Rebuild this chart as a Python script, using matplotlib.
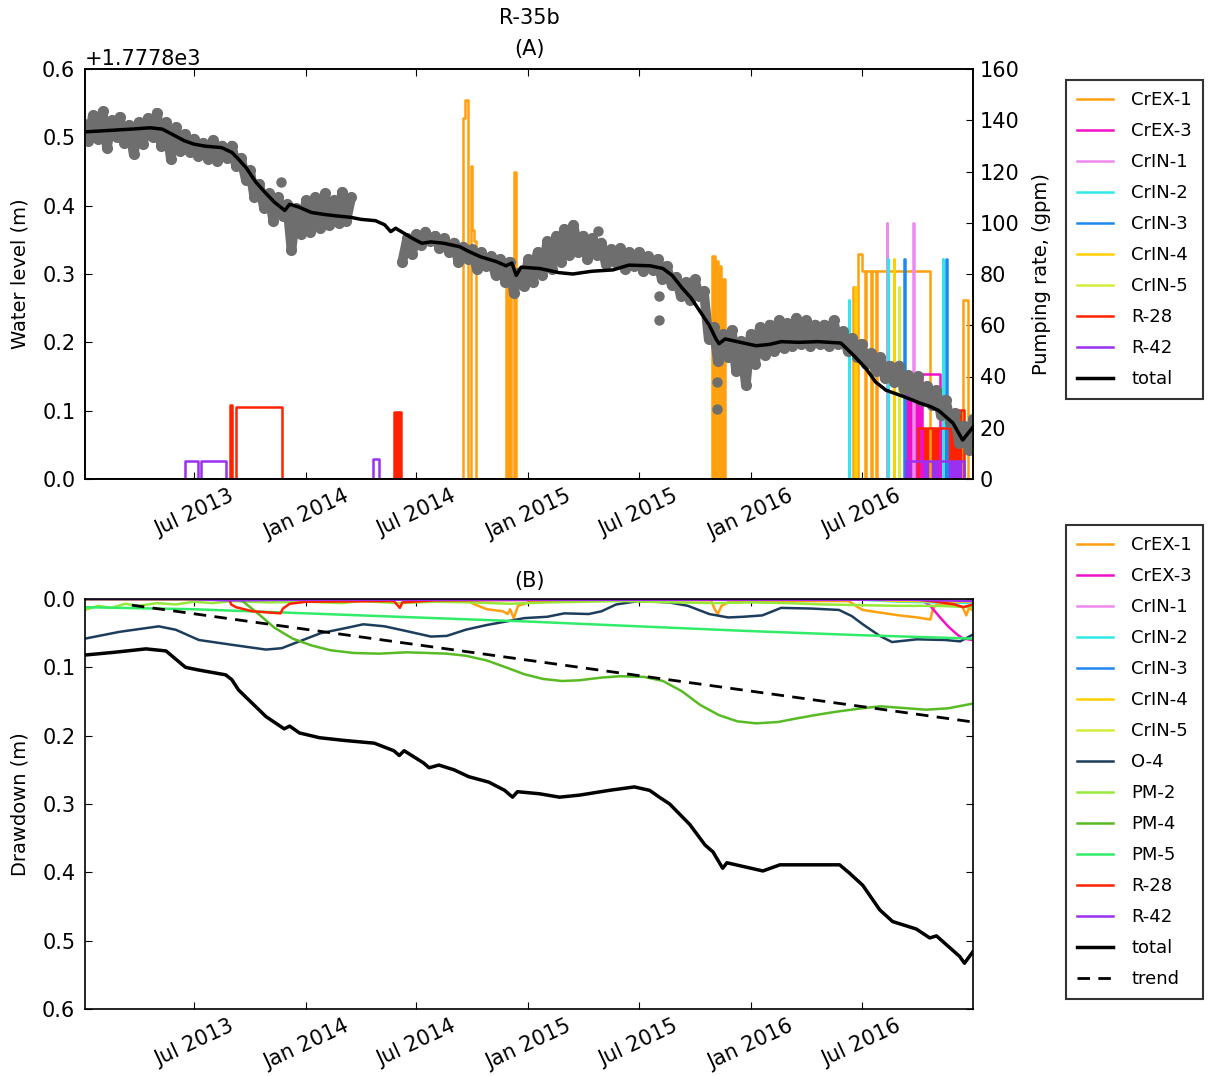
import numpy as np
import matplotlib
matplotlib.use('Agg')
import matplotlib.pyplot as plt
import matplotlib.dates as mdates
from matplotlib.ticker import MultipleLocator, ScalarFormatter, FormatStrFormatter

plt.rcParams['font.family'] = 'DejaVu Sans'
plt.rcParams['font.size'] = 15
plt.rcParams['axes.labelsize'] = 14

# ---------------- panel A: water level ----------------
wl_base = 1777.8   # offset shown on the axis

# gray observations, 4 readings per month (days below), None = no data
gray_months = ['2013-01', '2013-02', '2013-03', '2013-04', '2013-05', '2013-06',
               '2013-07', '2013-08', '2013-09', '2013-10', '2013-11', '2013-12',
               '2014-01', '2014-02', '2014-03', '2014-04', '2014-05', '2014-06',
               '2014-07', '2014-08', '2014-09', '2014-10', '2014-11', '2014-12',
               '2015-01', '2015-02', '2015-03', '2015-04', '2015-05', '2015-06',
               '2015-07', '2015-08', '2015-09', '2015-10', '2015-11', '2015-12',
               '2016-01', '2016-02', '2016-03', '2016-04', '2016-05', '2016-06',
               '2016-07', '2016-08', '2016-09', '2016-10', '2016-11', '2016-12']
gray_days = [1, 8, 16, 24]
gray_vals = [
    [0.520, 0.495, 0.532, 0.498], [0.538, 0.485, 0.525, 0.500], [0.530, 0.492, 0.518, 0.475],
    [0.522, 0.490, 0.528, 0.500], [0.536, 0.488, 0.522, 0.468], [0.515, 0.480, 0.505, 0.478],
    [0.498, 0.472, 0.492, 0.468], [0.496, 0.466, 0.488, 0.470], [0.488, 0.458, 0.470, 0.438],
    [0.452, 0.412, 0.432, 0.396], [0.418, 0.378, 0.412, 0.385], [0.402, 0.335, 0.396, 0.358],
    [0.408, 0.362, 0.412, 0.368], [0.418, 0.372, 0.408, 0.375], [0.420, 0.378, 0.412, None],
    [None, None, None, None], [None, None, None, None], [None, 0.318, 0.352, 0.330],
    [0.358, 0.342, 0.362, 0.348], [0.356, 0.338, 0.352, 0.332], [0.346, 0.318, 0.340, 0.322],
    [0.336, 0.308, 0.332, 0.312], [0.326, 0.298, 0.322, 0.288], [0.318, 0.272, 0.302, 0.282],
    [0.322, 0.288, 0.332, 0.298], [0.348, 0.308, 0.356, 0.318], [0.366, 0.328, 0.372, 0.332],
    [0.356, 0.322, 0.352, 0.328], [0.346, 0.314, 0.336, 0.318], [0.338, 0.308, 0.332, 0.312],
    [0.332, 0.304, 0.326, 0.306], [0.322, 0.292, 0.312, 0.284], [0.296, 0.268, 0.288, 0.262],
    [0.292, 0.268, 0.275, 0.205], [0.222, 0.172, 0.212, 0.178], [0.218, 0.158, 0.202, 0.138],
    [0.212, 0.168, 0.222, 0.182], [0.226, 0.188, 0.232, 0.192], [0.228, 0.194, 0.236, 0.198],
    [0.232, 0.194, 0.226, 0.198], [0.226, 0.194, 0.232, 0.198], [0.216, 0.188, 0.206, 0.178],
    [0.198, 0.168, 0.184, 0.158], [0.178, 0.148, 0.166, 0.142], [0.166, 0.132, 0.152, 0.124],
    [0.150, 0.114, 0.136, 0.108], [0.130, 0.094, 0.116, 0.084], [0.096, 0.052, 0.078, 0.042]]
gray_end = ('2016-12-31', 0.088)
gray_out_t = ['2013-11-20', '2015-04-25', '2015-08-04', '2015-08-04', '2015-11-06', '2015-11-06']
gray_out_v = [0.435, 0.363, 0.268, 0.233, 0.142, 0.102]

wl_t = ['2013-01-03', '2013-02-10', '2013-03-20', '2013-04-20', '2013-05-10', '2013-05-25',
        '2013-06-15', '2013-07-01', '2013-07-20', '2013-08-15', '2013-09-01', '2013-09-10',
        '2013-09-25', '2013-10-10', '2013-10-25', '2013-11-10', '2013-11-20', '2013-11-27',
        '2013-12-05', '2013-12-20', '2014-01-10', '2014-02-01', '2014-02-20', '2014-03-15',
        '2014-04-01', '2014-04-25', '2014-05-10', '2014-05-20', '2014-05-28', '2014-06-10',
        '2014-06-25', '2014-07-10', '2014-07-25', '2014-08-15', '2014-09-10', '2014-09-25',
        '2014-10-15', '2014-11-10', '2014-11-25', '2014-12-05', '2014-12-12', '2014-12-20',
        '2015-01-20', '2015-02-20', '2015-03-15', '2015-04-15', '2015-05-20', '2015-06-15',
        '2015-07-20', '2015-08-10', '2015-08-25', '2015-09-10', '2015-09-25', '2015-10-10',
        '2015-10-25', '2015-11-05', '2015-11-10', '2015-11-20', '2015-12-15', '2016-01-10',
        '2016-02-01', '2016-02-20', '2016-03-20', '2016-04-20', '2016-05-28', '2016-06-18',
        '2016-07-08', '2016-07-24', '2016-08-10', '2016-09-10', '2016-10-05', '2016-10-22',
        '2016-11-05', '2016-11-28', '2016-12-14', '2016-12-31']
wl_total = [0.508, 0.510, 0.512, 0.514, 0.512, 0.505,
            0.495, 0.490, 0.487, 0.485, 0.478, 0.470,
            0.455, 0.435, 0.420, 0.405, 0.398, 0.393,
            0.402, 0.398, 0.390, 0.387, 0.385, 0.383,
            0.380, 0.378, 0.372, 0.362, 0.367, 0.360,
            0.352, 0.345, 0.347, 0.345, 0.340, 0.333,
            0.325, 0.318, 0.312, 0.316, 0.298, 0.310,
            0.308, 0.302, 0.300, 0.304, 0.306, 0.313,
            0.312, 0.308, 0.298, 0.280, 0.265, 0.245,
            0.225, 0.205, 0.198, 0.205, 0.200, 0.195,
            0.197, 0.201, 0.200, 0.201, 0.199, 0.181,
            0.162, 0.142, 0.130, 0.120, 0.111, 0.106,
            0.100, 0.082, 0.057, 0.076]

# pumping rates (gpm): change points, rate holds until the next date
crex1_t = ['2013-01-03', '2014-09-15', '2014-09-19', '2014-09-24', '2014-09-28', '2014-09-30',
           '2014-10-03', '2014-10-07', '2014-11-25', '2014-11-28', '2014-11-30', '2014-12-03',
           '2014-12-09', '2014-12-12', '2015-10-30', '2015-11-04', '2015-11-09', '2015-11-14',
           '2015-11-19', '2016-06-17', '2016-06-20', '2016-06-26', '2016-07-02', '2016-07-07',
           '2016-07-09', '2016-07-16', '2016-07-18', '2016-07-24', '2016-07-26', '2016-10-22',
           '2016-12-14', '2016-12-22', '2016-12-31']
crex1_q = [0, 141, 148, 0, 122, 97,
           93, 0, 78, 0, 74, 0,
           120, 0, 87, 85, 83, 78,
           0, 75, 0, 88, 81, 0,
           81, 0, 81, 0, 81, 0,
           70, 0, 0]
crex1_fill = [('2015-10-30', '2015-11-19')]

crex3_t = ['2013-01-03', '2016-09-12', '2016-09-22', '2016-09-27', '2016-09-30', '2016-10-03',
           '2016-10-05', '2016-10-08', '2016-11-07', '2016-12-31']
crex3_q = [0, 41, 0, 41, 0, 41, 0, 41, 0, 0]
crex3_fill = [('2016-09-12', '2016-09-22')]

crin1_t = ['2013-01-03', '2016-08-11', '2016-08-12', '2016-09-24', '2016-09-25', '2016-12-31']
crin1_q = [0, 100, 0, 100, 0, 0]
crin2_t = ['2013-01-03', '2016-06-10', '2016-06-11', '2016-08-13', '2016-08-14', '2016-11-11',
           '2016-11-12', '2016-12-31']
crin2_q = [0, 70, 0, 86, 0, 86, 0, 0]
crin3_t = ['2013-01-03', '2016-09-09', '2016-09-10', '2016-11-17', '2016-11-18', '2016-12-31']
crin3_q = [0, 86, 0, 86, 0, 0]
crin4_t = ['2013-01-03', '2016-06-21', '2016-06-22', '2016-08-23', '2016-08-24', '2016-12-31']
crin4_q = [0, 75, 0, 86, 0, 0]
crin5_t = ['2013-01-03', '2016-08-31', '2016-09-01', '2016-12-31']
crin5_q = [0, 75, 0, 0]

r28_t = ['2013-01-03', '2013-08-29', '2013-09-01', '2013-09-08', '2013-11-22', '2014-05-25',
         '2014-06-06', '2016-10-02', '2016-12-05', '2016-12-16', '2016-12-31']
r28_q = [0, 29, 0, 28, 0, 26, 0, 20, 27, 0, 0]
r28_fill = [('2014-05-25', '2014-06-06'), ('2016-10-02', '2016-12-16')]

r42_t = ['2013-01-03', '2013-06-17', '2013-07-08', '2013-07-12', '2013-08-23', '2014-04-21',
         '2014-05-01', '2016-09-12', '2016-12-16', '2016-12-31']
r42_q = [0, 7, 0, 7, 0, 8, 0, 7, 0, 0]
r42_fill = [('2016-09-12', '2016-12-16')]

# ---------------- panel B: drawdown (m) ----------------
dd_total_t = ['2013-01-03', '2013-02-20', '2013-04-13', '2013-05-16', '2013-06-17', '2013-07-09',
              '2013-08-22', '2013-09-01', '2013-09-12', '2013-10-27', '2013-11-26', '2013-12-05',
              '2013-12-21', '2014-01-23', '2014-03-05', '2014-04-23', '2014-05-25', '2014-06-03',
              '2014-06-11', '2014-07-13', '2014-07-22', '2014-08-07', '2014-09-01', '2014-09-25',
              '2014-10-28', '2014-11-23', '2014-12-06', '2014-12-14', '2015-01-19', '2015-02-21',
              '2015-03-26', '2015-05-14', '2015-06-24', '2015-07-19', '2015-08-04', '2015-08-21',
              '2015-09-23', '2015-10-18', '2015-10-31', '2015-11-16', '2015-11-23', '2016-01-21',
              '2016-02-18', '2016-05-26', '2016-06-11', '2016-07-03', '2016-07-31', '2016-08-21',
              '2016-09-29', '2016-10-21', '2016-11-01', '2016-12-09', '2016-12-17', '2016-12-31']
dd_total = [0.082, 0.078, 0.073, 0.076, 0.100, 0.104,
            0.111, 0.118, 0.133, 0.172, 0.190, 0.186,
            0.196, 0.203, 0.207, 0.211, 0.222, 0.229,
            0.222, 0.240, 0.247, 0.243, 0.250, 0.260,
            0.268, 0.280, 0.290, 0.282, 0.285, 0.290,
            0.287, 0.280, 0.275, 0.280, 0.290, 0.300,
            0.330, 0.360, 0.370, 0.394, 0.386, 0.398,
            0.389, 0.389, 0.401, 0.419, 0.455, 0.472,
            0.483, 0.496, 0.493, 0.523, 0.533, 0.516]

trend_t = ['2013-03-21', '2016-12-31']
trend_v = [0.009, 0.180]

o4_t = ['2013-01-03', '2013-03-01', '2013-05-04', '2013-06-01', '2013-07-09', '2013-09-01',
        '2013-10-27', '2013-11-22', '2013-12-21', '2014-01-25', '2014-03-10', '2014-04-05',
        '2014-05-10', '2014-06-15', '2014-07-25', '2014-08-20', '2014-09-20', '2014-10-25',
        '2014-11-25', '2014-12-25', '2015-02-01', '2015-03-01', '2015-04-10', '2015-05-01',
        '2015-05-25', '2015-07-01', '2015-08-20', '2015-09-20', '2015-10-25', '2015-11-25',
        '2015-12-20', '2016-01-20', '2016-02-20', '2016-04-10', '2016-05-25', '2016-06-15',
        '2016-07-03', '2016-07-31', '2016-08-20', '2016-09-30', '2016-11-15', '2016-12-10',
        '2016-12-31']
o4_v = [0.058, 0.048, 0.040, 0.045, 0.060, 0.067,
        0.074, 0.072, 0.062, 0.050, 0.042, 0.037,
        0.040, 0.047, 0.055, 0.054, 0.045, 0.038,
        0.033, 0.028, 0.026, 0.021, 0.022, 0.018,
        0.008, 0.003, 0.005, 0.010, 0.022, 0.027,
        0.026, 0.024, 0.013, 0.014, 0.016, 0.025,
        0.037, 0.054, 0.063, 0.059, 0.060, 0.062,
        0.052]

pm2_t = ['2013-01-03', '2013-01-25', '2013-02-15', '2013-03-10', '2013-04-01', '2013-05-01',
         '2013-06-01', '2013-07-01', '2013-08-01', '2013-09-01', '2013-11-01', '2014-01-01',
         '2014-03-01', '2014-04-01', '2014-06-01', '2014-08-01', '2014-10-01', '2014-12-01',
         '2015-02-01', '2015-04-01', '2015-06-01', '2015-09-01', '2015-11-01', '2016-01-01',
         '2016-03-01', '2016-05-01', '2016-07-01', '2016-09-01', '2016-11-01', '2016-12-31']
pm2_v = [0.016, 0.010, 0.013, 0.007, 0.010, 0.006,
         0.008, 0.004, 0.006, 0.003, 0.005, 0.004,
         0.006, 0.003, 0.006, 0.004, 0.005, 0.007,
         0.005, 0.004, 0.003, 0.005, 0.006, 0.005,
         0.006, 0.008, 0.009, 0.010, 0.010, 0.012]

pm4_t = ['2013-01-03', '2013-09-10', '2013-09-20', '2013-10-15', '2013-11-10', '2013-12-10',
         '2014-01-10', '2014-02-10', '2014-03-20', '2014-05-01', '2014-06-15', '2014-07-20',
         '2014-08-20', '2014-09-20', '2014-10-25', '2014-11-25', '2014-12-25', '2015-01-25',
         '2015-02-25', '2015-03-25', '2015-05-01', '2015-06-01', '2015-07-10', '2015-08-10',
         '2015-09-10', '2015-10-10', '2015-11-10', '2015-12-10', '2016-01-10', '2016-02-15',
         '2016-03-15', '2016-04-15', '2016-05-20', '2016-07-01', '2016-08-01', '2016-09-15',
         '2016-10-15', '2016-11-20', '2016-12-31']
pm4_v = [0.000, 0.000, 0.004, 0.022, 0.042, 0.058,
         0.068, 0.075, 0.079, 0.080, 0.078, 0.079,
         0.080, 0.083, 0.090, 0.100, 0.110, 0.117,
         0.120, 0.119, 0.115, 0.113, 0.114, 0.120,
         0.135, 0.155, 0.170, 0.179, 0.182, 0.180,
         0.175, 0.170, 0.165, 0.160, 0.157, 0.160,
         0.162, 0.160, 0.153]

pm5_t = ['2013-01-03', '2013-07-01', '2014-01-01', '2014-07-01', '2015-01-01', '2015-07-01',
         '2016-01-01', '2016-07-01', '2016-12-31']
pm5_v = [0.012, 0.015, 0.021, 0.027, 0.033, 0.040, 0.047, 0.053, 0.058]

crex1_dd_t = ['2013-01-03', '2014-09-20', '2014-10-05', '2014-10-25', '2014-11-20', '2014-11-28',
              '2014-12-02', '2014-12-08', '2014-12-15', '2015-01-01', '2015-03-01', '2015-10-28',
              '2015-11-03', '2015-11-08', '2015-11-14', '2015-11-25', '2016-01-15', '2016-06-10',
              '2016-06-25', '2016-07-03', '2016-08-01', '2016-09-01', '2016-10-01', '2016-10-22',
              '2016-10-26', '2016-11-01', '2016-12-01', '2016-12-14', '2016-12-20', '2016-12-24',
              '2016-12-31']
crex1_dd = [0.000, 0.001, 0.008, 0.015, 0.018, 0.022,
            0.015, 0.028, 0.010, 0.005, 0.002, 0.002,
            0.015, 0.022, 0.010, 0.005, 0.003, 0.003,
            0.012, 0.016, 0.020, 0.024, 0.027, 0.030,
            0.015, 0.008, 0.010, 0.012, 0.024, 0.014,
            0.016]
crex3_dd_t = ['2013-01-03', '2016-10-01', '2016-10-10', '2016-10-22', '2016-11-05', '2016-11-20',
              '2016-12-05', '2016-12-15', '2016-12-31']
crex3_dd = [0.0, 0.0, 0.003, 0.010, 0.025, 0.040, 0.052, 0.058, 0.060]
crin1_dd_t = ['2013-01-03', '2016-08-10', '2016-10-01', '2016-12-31']
crin1_dd = [0.0, 0.0, 0.002, 0.003]
crin2_dd_t = ['2013-01-03', '2016-06-10', '2016-09-01', '2016-12-31']
crin2_dd = [0.0, 0.0, 0.004, 0.006]
crin3_dd_t = ['2013-01-03', '2016-09-09', '2016-11-01', '2016-12-31']
crin3_dd = [0.0, 0.0, 0.003, 0.004]
crin4_dd_t = ['2013-01-03', '2016-06-21', '2016-09-01', '2016-12-31']
crin4_dd = [0.0, 0.0, 0.003, 0.004]
crin5_dd_t = ['2013-01-03', '2016-08-31', '2016-10-15', '2016-12-31']
crin5_dd = [0.0, 0.0, 0.002, 0.003]
r28_dd_t = ['2013-01-03', '2013-08-28', '2013-08-31', '2013-09-08', '2013-10-05', '2013-11-20',
            '2013-11-24', '2013-12-05', '2014-01-01', '2014-05-25', '2014-05-30', '2014-06-04',
            '2014-06-08', '2014-08-01', '2015-06-01', '2016-10-01', '2016-11-01', '2016-12-01',
            '2016-12-15', '2016-12-31']
r28_dd = [0.0, 0.0, 0.008, 0.012, 0.018, 0.021,
          0.014, 0.007, 0.004, 0.003, 0.008, 0.013,
          0.005, 0.002, 0.001, 0.001, 0.004, 0.008,
          0.012, 0.008]
r42_dd_t = ['2013-01-03', '2013-06-17', '2013-08-25', '2013-12-31', '2016-09-12', '2016-12-31']
r42_dd = [0.0, 0.0, 0.002, 0.001, 0.001, 0.003]

c_crex1 = '#ffa010'
c_crex3 = '#f010c8'
c_crin1 = '#ee88ee'
c_crin2 = '#30e8e8'
c_crin3 = '#1e88f0'
c_crin4 = '#ffd000'
c_crin5 = '#d8ec3c'
c_r28 = '#ff2200'
c_r42 = '#9a30f0'
c_o4 = '#1c3d5c'
c_pm2 = '#96e83a'
c_pm4 = '#58bb24'
c_pm5 = '#30ec68'
c_gray = '#6e6e6e'


def dt(lst):
    return np.array(lst, dtype='datetime64[D]')


W, H = 1213.0, 1076.0
fig = plt.figure(figsize=(W / 100, H / 100), dpi=100)
axA = fig.add_axes([85 / W, 1 - 479 / H, 888 / W, 410 / H])
axQ = axA.twinx()
axB = fig.add_axes([85 / W, 1 - 1009 / H, 888 / W, 410 / H])

# pumping on the twin axis (drawn underneath the water level)
wells_a = [('CrEX-1', crex1_t, crex1_q, crex1_fill, c_crex1),
           ('CrEX-3', crex3_t, crex3_q, crex3_fill, c_crex3),
           ('CrIN-1', crin1_t, crin1_q, [], c_crin1),
           ('CrIN-2', crin2_t, crin2_q, [], c_crin2),
           ('CrIN-3', crin3_t, crin3_q, [], c_crin3),
           ('CrIN-4', crin4_t, crin4_q, [], c_crin4),
           ('CrIN-5', crin5_t, crin5_q, [], c_crin5),
           ('R-28', r28_t, r28_q, r28_fill, c_r28),
           ('R-42', r42_t, r42_q, r42_fill, c_r42)]
handles_a = []
for name, t, q, spans, c in wells_a:
    t = dt(t)
    q = np.array(q, float)
    ln, = axQ.step(t, q, where='post', color=c, lw=1.8, label=name)
    handles_a.append(ln)
    for s, e in spans:
        m = (t >= np.datetime64(s)) & (t <= np.datetime64(e))
        axQ.fill_between(t, 0, q, where=m, step='post', color=c, lw=0)

g_t = dt([m + '-%02d' % day for m in gray_months for day in gray_days] + [gray_end[0]])
g_v = np.array([np.nan if v is None else v for row in gray_vals for v in row] + [gray_end[1]])
axA.plot(g_t, wl_base + g_v, '-', color=c_gray, lw=7, solid_capstyle='round',
         solid_joinstyle='round')
axA.plot(g_t, wl_base + g_v, 'o', color=c_gray, ms=7, mec=c_gray)
axA.plot(dt(gray_out_t), wl_base + np.array(gray_out_v), 'o', color=c_gray, ms=6.5, mec=c_gray)
tot_a, = axA.plot(dt(wl_t), wl_base + np.array(wl_total), color='k', lw=2.5, label='total')
handles_a.append(tot_a)

axA.set_zorder(axQ.get_zorder() + 1)
axA.patch.set_visible(False)

# drawdown panel
wells_b = [('CrEX-1', crex1_dd_t, crex1_dd, c_crex1),
           ('CrEX-3', crex3_dd_t, crex3_dd, c_crex3),
           ('CrIN-1', crin1_dd_t, crin1_dd, c_crin1),
           ('CrIN-2', crin2_dd_t, crin2_dd, c_crin2),
           ('CrIN-3', crin3_dd_t, crin3_dd, c_crin3),
           ('CrIN-4', crin4_dd_t, crin4_dd, c_crin4),
           ('CrIN-5', crin5_dd_t, crin5_dd, c_crin5),
           ('O-4', o4_t, o4_v, c_o4),
           ('PM-2', pm2_t, pm2_v, c_pm2),
           ('PM-4', pm4_t, pm4_v, c_pm4),
           ('PM-5', pm5_t, pm5_v, c_pm5),
           ('R-28', r28_dd_t, r28_dd, c_r28),
           ('R-42', r42_dd_t, r42_dd, c_r42)]
for name, t, v, c in wells_b:
    axB.plot(dt(t), v, color=c, lw=1.8, label=name)
axB.plot(dt(dd_total_t), dd_total, color='k', lw=2.5, label='total')
axB.plot(dt(trend_t), trend_v, color='k', lw=2, ls='--', dashes=(4.5, 3), label='trend')

# axes cosmetics
xlo, xhi = np.datetime64('2013-01-03'), np.datetime64('2016-12-31')
for ax in (axA, axB):
    ax.set_xlim(xlo, xhi)
    ax.xaxis.set_major_locator(mdates.MonthLocator(bymonth=[1, 7]))
    ax.xaxis.set_major_formatter(mdates.DateFormatter('%b %Y'))
    ax.tick_params(axis='x', direction='in', length=5, top=True, labelrotation=25, pad=5,
                   labelsize=15)
    for sp in ax.spines.values():
        sp.set_linewidth(1.2)
for sp in axQ.spines.values():
    sp.set_linewidth(1.2)

axA.set_ylim(wl_base, wl_base + 0.6)
axA.set_yticks(wl_base + np.arange(0, 0.61, 0.1))
axA.yaxis.set_major_formatter(ScalarFormatter(useOffset=wl_base))
axA.tick_params(axis='y', direction='in', length=5, left=True, right=False, pad=7, labelsize=15)
axA.yaxis.get_offset_text().set_fontsize(15)
axA.set_ylabel('Water level (m)', labelpad=9)
axA.set_title('R-35b\n(A)', pad=10, linespacing=1.7, fontsize=15)

axQ.set_ylim(0, 160)
axQ.yaxis.set_major_locator(MultipleLocator(20))
axQ.tick_params(axis='y', direction='in', length=5, left=False, right=True, pad=5, labelsize=15)
axQ.set_ylabel('Pumping rate, (gpm)', labelpad=9)

axB.set_ylim(0.6, 0.0)
axB.yaxis.set_major_locator(MultipleLocator(0.1))
axB.yaxis.set_major_formatter(FormatStrFormatter('%.1f'))
axB.tick_params(axis='y', direction='in', length=5, left=True, right=True, pad=7, labelsize=15)
axB.set_ylabel('Drawdown (m)', labelpad=9)
axB.set_title('(B)', pad=9, fontsize=15)

leg_kw = dict(loc='upper left', borderaxespad=0, fancybox=False, borderpad=0.6,
              handlelength=2.0, handletextpad=1.0, labelspacing=0.72, fontsize=13)
legA = fig.legend(handles=handles_a, bbox_to_anchor=(1066 / W, 1 - 80 / H), **leg_kw)
hb, lb = axB.get_legend_handles_labels()
legB = fig.legend(hb, lb, bbox_to_anchor=(1066 / W, 1 - 525 / H), **leg_kw)
for lg in (legA, legB):
    lg.get_frame().set_edgecolor('k')
    lg.get_frame().set_linewidth(1.5)

fig.savefig('out.png', dpi=100, facecolor='white')
